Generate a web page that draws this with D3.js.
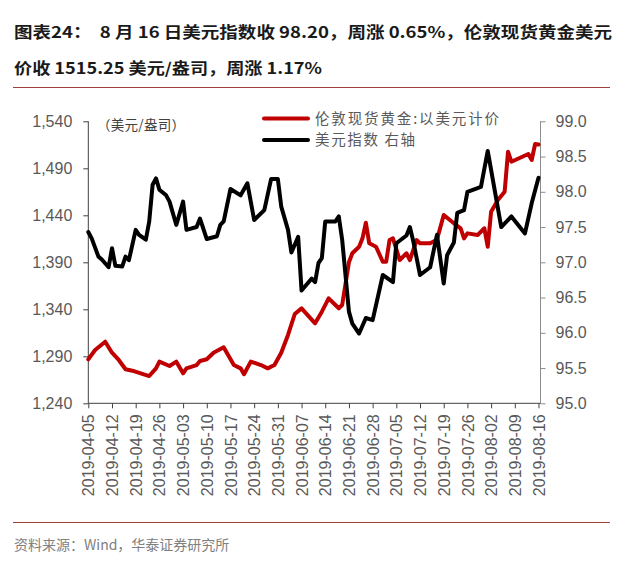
<!DOCTYPE html>
<html><head><meta charset="utf-8">
<script src="https://cdn.jsdelivr.net/npm/d3@7/dist/d3.min.js"></script>
<style>
body{margin:0;background:#fff;}
svg{display:block;}
text{white-space:pre;}
</style></head>
<body>
<svg id="c" width="623" height="567"></svg>
<script>
// ---- data ----
const goldDates = ["2019-04-05","2019-04-07","2019-04-10","2019-04-12","2019-04-14","2019-04-16","2019-04-18","2019-04-23","2019-04-25","2019-04-26","2019-04-29","2019-05-01","2019-05-03","2019-05-04","2019-05-07","2019-05-08","2019-05-10","2019-05-12","2019-05-15","2019-05-16","2019-05-18","2019-05-20","2019-05-21","2019-05-23","2019-05-26","2019-05-28","2019-05-30","2019-06-01","2019-06-03","2019-06-05","2019-06-07","2019-06-11","2019-06-13","2019-06-15","2019-06-17","2019-06-18","2019-06-19","2019-06-21","2019-06-22","2019-06-24","2019-06-25","2019-06-26","2019-06-27","2019-06-29","2019-07-01","2019-07-02","2019-07-03","2019-07-04","2019-07-06","2019-07-08","2019-07-09","2019-07-11","2019-07-12","2019-07-15","2019-07-17","2019-07-19","2019-07-22","2019-07-24","2019-07-25","2019-07-26","2019-07-29","2019-07-31","2019-08-01","2019-08-02","2019-08-04","2019-08-06","2019-08-07","2019-08-08","2019-08-13","2019-08-14","2019-08-15","2019-08-16"];
const goldValues = [1286.8,1296.7,1305.5,1293.8,1286.1,1276.2,1274.7,1269.0,1277.2,1284.3,1279.7,1284.3,1271.9,1277.2,1280.7,1285.0,1286.8,1293.8,1299.6,1293.2,1280.7,1277.2,1270.9,1284.3,1280.7,1277.2,1280.7,1293.8,1312.7,1335.0,1341.0,1325.1,1337.5,1351.7,1344.6,1341.1,1344.6,1390.0,1399.6,1406.6,1415.5,1432.1,1410.2,1406.6,1390.6,1390.6,1413.7,1415.5,1392.4,1399.6,1392.4,1413.7,1410.2,1410.2,1414.0,1440.3,1431.5,1426.2,1415.5,1420.8,1419.0,1426.2,1406.6,1443.8,1456.3,1465.1,1507.7,1497.0,1505.2,1498.8,1515.9,1515.25];
const dxyDates = ["2019-04-05","2019-04-06","2019-04-08","2019-04-09","2019-04-11","2019-04-12","2019-04-13","2019-04-15","2019-04-16","2019-04-17","2019-04-19","2019-04-20","2019-04-22","2019-04-23","2019-04-24","2019-04-25","2019-04-26","2019-04-28","2019-04-29","2019-05-01","2019-05-03","2019-05-04","2019-05-07","2019-05-08","2019-05-10","2019-05-13","2019-05-14","2019-05-15","2019-05-17","2019-05-20","2019-05-22","2019-05-24","2019-05-27","2019-05-29","2019-05-31","2019-06-01","2019-06-03","2019-06-04","2019-06-06","2019-06-07","2019-06-10","2019-06-11","2019-06-12","2019-06-13","2019-06-14","2019-06-17","2019-06-18","2019-06-19","2019-06-21","2019-06-22","2019-06-24","2019-06-26","2019-06-28","2019-07-01","2019-07-04","2019-07-05","2019-07-08","2019-07-09","2019-07-10","2019-07-12","2019-07-15","2019-07-17","2019-07-19","2019-07-20","2019-07-22","2019-07-23","2019-07-25","2019-07-26","2019-07-30","2019-08-01","2019-08-05","2019-08-08","2019-08-12","2019-08-14","2019-08-16"];
const dxyValues = [97.43,97.34,97.08,97.04,96.93,97.20,96.95,96.94,97.08,97.03,97.46,97.39,97.32,97.58,98.10,98.19,98.03,97.95,97.86,97.53,97.86,97.46,97.50,97.62,97.33,97.37,97.53,97.58,98.04,97.95,98.12,97.60,97.74,98.18,98.18,97.79,97.46,97.14,97.36,96.60,96.77,96.72,96.99,97.06,97.58,97.58,97.65,97.32,96.30,96.13,95.99,96.21,96.18,96.82,96.72,97.27,97.38,97.50,97.30,96.82,96.93,97.39,96.70,97.10,97.28,97.70,97.74,98.00,98.07,98.58,97.50,97.65,97.41,97.84,98.20];
const tickDates = ["2019-04-05","2019-04-12","2019-04-19","2019-04-26","2019-05-03","2019-05-10","2019-05-17","2019-05-24","2019-05-31","2019-06-07","2019-06-14","2019-06-21","2019-06-28","2019-07-05","2019-07-12","2019-07-19","2019-07-26","2019-08-02","2019-08-09","2019-08-16"];
const leftTicks = [1240,1290,1340,1390,1440,1490,1540];
const rightTicks = [95.0,95.5,96.0,96.5,97.0,97.5,98.0,98.5,99.0];
const seriesNames = ["伦敦现货黄金:以美元计价","美元指数 右轴"];
const titleLines = ["图表24：  8 月 16 日美元指数收 98.20，周涨 0.65%，伦敦现货黄金美元","价收 1515.25 美元/盎司，周涨 1.17%"];
const unitLabel = "（美元/盎司）";
const sourceText = "资料来源：Wind，华泰证券研究所";

// ---- drawing ----
const svg = d3.select("#c");
const parse = d3.timeParse("%Y-%m-%d");
const L = 88.3, R = 538.5, T = 121.3, B = 403.3;
const x = d3.scaleTime().domain([parse(tickDates[0]), parse(tickDates[tickDates.length-1])]).range([L, R]);
const yL = d3.scaleLinear().domain([1240,1540]).range([B, T]);
const yR = d3.scaleLinear().domain([95,99]).range([B, T]);
const sans = "'Liberation Sans', Arial, sans-serif";
const cjk = "'Noto Sans CJK SC', sans-serif";

// title
svg.append("text").attr("x",14).attr("y",38).attr("font-family",cjk).attr("font-weight","bold")
  .attr("font-size",15.5).attr("fill","#1a1a1a").attr("textLength",598).attr("lengthAdjust","spacingAndGlyphs").text(titleLines[0]);
svg.append("text").attr("x",14).attr("y",74).attr("font-family",cjk).attr("font-weight","bold")
  .attr("font-size",15.5).attr("fill","#1a1a1a").attr("textLength",308).attr("lengthAdjust","spacingAndGlyphs").text(titleLines[1]);
svg.append("line").attr("x1",13).attr("x2",610).attr("y1",87.5).attr("y2",87.5).attr("stroke","#a0403a").attr("stroke-width",1);

// axes
const gL = svg.append("g").attr("transform",`translate(${L},0)`)
  .call(d3.axisLeft(yL).tickValues(leftTicks).tickSize(5).tickPadding(11).tickFormat(d3.format(",")));
gL.select(".domain").attr("stroke","#404040").attr("d",`M-0,${B}V${T}`);
gL.selectAll(".tick line").attr("stroke","#404040");
gL.selectAll("text").attr("font-family",sans).attr("font-size",16).attr("fill","#595959");

const gR = svg.append("g").attr("transform",`translate(${R+2},0)`)
  .call(d3.axisRight(yR).tickValues(rightTicks).tickSize(5).tickPadding(10).tickFormat(d3.format(".1f")));
gR.select(".domain").attr("stroke","#8c8c8c").attr("d",`M0,${B}V${T}`);
gR.selectAll(".tick line").attr("stroke","#8c8c8c");
gR.selectAll("text").attr("font-family",sans).attr("font-size",16).attr("fill","#595959");

const gB = svg.append("g").attr("transform",`translate(0,${B})`)
  .call(d3.axisBottom(x).tickValues(tickDates.map(parse)).tickSize(5).tickFormat(d3.timeFormat("%Y-%m-%d")));
gB.select(".domain").attr("stroke","#404040").attr("d",`M${L},0H${R+2}`);
gB.selectAll(".tick line").attr("stroke","#404040");
gB.selectAll("text").attr("font-family",sans).attr("font-size",16).attr("fill","#595959")
  .attr("transform","rotate(-90)").attr("text-anchor","end").attr("x",-11).attr("y",0).attr("dy","0.35em");

// lines
const goldData = goldDates.map((d,i)=>({d:parse(d),v:goldValues[i]}));
const dxyData = dxyDates.map((d,i)=>({d:parse(d),v:dxyValues[i]}));
svg.append("path").datum(goldData).attr("fill","none").attr("stroke","#c00000").attr("stroke-width",4)
  .attr("stroke-linejoin","round").attr("stroke-linecap","round")
  .attr("d",d3.line().x(p=>x(p.d)).y(p=>yL(p.v)));
svg.append("path").datum(dxyData).attr("fill","none").attr("stroke","#000").attr("stroke-width",4)
  .attr("stroke-linejoin","round").attr("stroke-linecap","round")
  .attr("d",d3.line().x(p=>x(p.d)).y(p=>yR(p.v)));

// unit label
svg.append("text").attr("x",97).attr("y",130).attr("font-family",cjk).attr("font-size",13.5).attr("fill","#404040")
  .attr("textLength",88).attr("lengthAdjust","spacing").text(unitLabel);

// legend
const legColors = ["#c00000","#000"];
seriesNames.forEach((n,i)=>{
  const yy = 118.5 + i*21.5;
  svg.append("line").attr("x1",264).attr("x2",308).attr("y1",yy).attr("y2",yy).attr("stroke",legColors[i]).attr("stroke-width",4).attr("stroke-linecap","round");
  svg.append("text").attr("x",315).attr("y",yy+5).attr("font-family",cjk).attr("font-size",14.5).attr("fill","#595959")
    .attr("textLength", i===0?184:100).attr("lengthAdjust","spacing").text(n);
});

// footer
svg.append("line").attr("x1",13).attr("x2",610).attr("y1",522.5).attr("y2",522.5).attr("stroke","#a0403a").attr("stroke-width",1);
svg.append("text").attr("x",14).attr("y",550).attr("font-family",cjk).attr("font-size",14).attr("fill","#808080").text(sourceText);
</script>
</body></html>
